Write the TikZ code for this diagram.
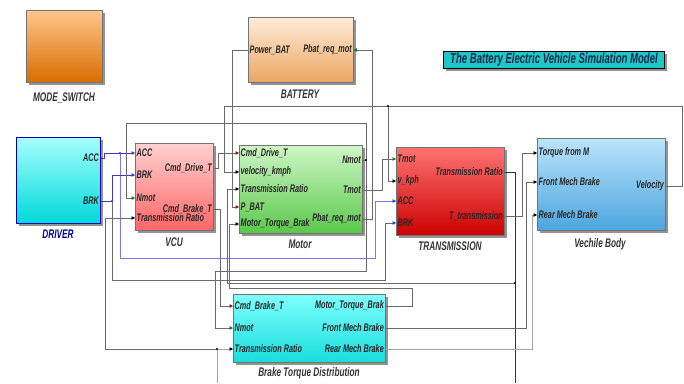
\documentclass[tikz,border=0pt]{standalone}
\usepackage{fontspec}
\newfontfamily\simfont[FakeStretch=0.66]{Liberation Sans}
\usetikzlibrary{shadows,arrows.meta,calc}

\definecolor{wiregray}{HTML}{6A6A6A}
\definecolor{wireblue}{HTML}{3A3AD0}
\definecolor{wirelblue}{HTML}{7A7AE6}
\definecolor{tipred}{HTML}{8A1E1E}
\definecolor{tipgreen}{HTML}{1E6E2E}
\definecolor{navy}{HTML}{18284A}
\definecolor{titlecyan}{HTML}{1EC8C8}
\definecolor{bodytop}{HTML}{BBE3FB}
\definecolor{bodybot}{HTML}{4CA6DF}
\definecolor{mottop}{HTML}{CFF6C6}
\definecolor{motbot}{HTML}{5AC84A}

\newcommand\portfont{\simfont\bfseries\itshape\fontsize{11}{12}\selectfont}
\newcommand\capfont{\simfont\bfseries\itshape\fontsize{12.5}{14}\selectfont}

\begin{document}
\begin{tikzpicture}[x=1pt,y=-1pt,
  block/.style={draw=black!55, line width=0.5pt, anchor=north west, inner sep=0pt,
    drop shadow={shadow xshift=2.5pt,shadow yshift=-2.5pt,fill=black!70,opacity=0.6}},
  port/.style={font=\portfont, inner sep=1.5pt, text=black!85},
  caption/.style={font=\capfont, anchor=north, text=black!80},
  wire/.style={draw=wiregray, line width=0.6pt},
  sig/.style={-{Triangle[length=3.5pt,width=3.5pt,color=#1]}},
  sig/.default=black]

  \fill[white] (0,0) rectangle (684,383);
  \useasboundingbox (0,0) rectangle (684,383);

  % Mode switch
  \node[block, minimum width=76pt, minimum height=72pt, top color=orange!45, bottom color=orange!85!black] (modesw) at (26,10) {};
  \node[caption] (modeswlbl) at (64,89) {MODE\_SWITCH};

  % Battery
  \node[block, minimum width=105pt, minimum height=65pt, top color=orange!15, bottom color=orange!55!brown!70] (bat) at (248,17) {};
  \node[caption] (batlbl) at (300,86) {BATTERY};
  \coordinate (batPB) at (bat.west |- 0,50);
  \coordinate (batPR) at (bat.east |- 0,50);
  \node[port, anchor=west] at (batPB) {Power\_BAT};
  \node[port, anchor=east] at (batPR) {Pbat\_req\_mot};

  % Title
  \node[draw=black, line width=0.6pt, fill=titlecyan, minimum width=221pt, minimum height=17pt, inner sep=0pt,
    drop shadow={shadow xshift=2.5pt,shadow yshift=-2.5pt,fill=black!70,opacity=0.6},
    font=\simfont\bfseries\itshape\fontsize{14.5}{15}\selectfont, text=navy] (title) at (554,60) {The Battery Electric Vehicle Simulation Model};

  % Driver
  \node[block, draw=blue!70!black, minimum width=84pt, minimum height=86pt, top color=cyan!35, bottom color=cyan!70!teal] (drv) at (16,137) {};
  \node[caption, text=blue!60!black] (drvlbl) at (58,226) {DRIVER};
  \coordinate (drvACC) at (drv.east |- 0,158);
  \coordinate (drvBRK) at (drv.east |- 0,201);
  \node[port, anchor=east] at (drvACC) {ACC};
  \node[port, anchor=east] at (drvBRK) {BRK};

  % VCU
  \node[block, minimum width=78pt, minimum height=87pt, top color=red!18, bottom color=red!60!white] (vcu) at (135,143) {};
  \node[caption] (vculbl) at (174,234) {VCU};
  \coordinate (vcuACC) at (vcu.west |- 0,153);
  \coordinate (vcuBRK) at (vcu.west |- 0,175);
  \coordinate (vcuNM) at (vcu.west |- 0,198);
  \coordinate (vcuTR) at (vcu.west |- 0,218);
  \coordinate (vcuCD) at (vcu.east |- 0,168);
  \coordinate (vcuCB) at (vcu.east |- 0,209);
  \node[port, anchor=west] at (vcuACC) {ACC};
  \node[port, anchor=west] at (vcuBRK) {BRK};
  \node[port, anchor=west] at (vcuNM) {Nmot};
  \node[port, anchor=west] at (vcuTR) {Transmission Ratio};
  \node[port, anchor=east] at (vcuCD) {Cmd\_Drive\_T};
  \node[port, anchor=east] at (vcuCB) {Cmd\_Brake\_T};

  % Motor
  \node[block, minimum width=123pt, minimum height=88pt, top color=mottop, bottom color=motbot] (mot) at (239,145) {};
  \node[caption] (motlbl) at (300,236) {Motor};
  \coordinate (motCD) at (mot.west |- 0,153);
  \coordinate (motVK) at (mot.west |- 0,172);
  \coordinate (motTR) at (mot.west |- 0,189);
  \coordinate (motPB) at (mot.west |- 0,207);
  \coordinate (motMT) at (mot.west |- 0,224);
  \coordinate (motNM) at (mot.east |- 0,160);
  \coordinate (motTM) at (mot.east |- 0,190);
  \coordinate (motPR) at (mot.east |- 0,219);
  \node[port, anchor=west] at (motCD) {Cmd\_Drive\_T};
  \node[port, anchor=west] at (motVK) {velocity\_kmph};
  \node[port, anchor=west] at (motTR) {Transmission Ratio};
  \node[port, anchor=west] at (motPB) {P\_BAT};
  \node[port, anchor=west] at (motMT) {Motor\_Torque\_Brak};
  \node[port, anchor=east] at (motNM) {Nmot};
  \node[port, anchor=east] at (motTM) {Tmot};
  \node[port, anchor=east] at (motPR) {Pbat\_req\_mot};

  % Transmission
  \node[block, minimum width=108pt, minimum height=88pt, top color=red!55, bottom color=red!80!black] (trn) at (396,147) {};
  \node[caption] (trnlbl) at (450,238) {TRANSMISSION};
  \coordinate (trnTM) at (trn.west |- 0,159);
  \coordinate (trnVK) at (trn.west |- 0,181);
  \coordinate (trnACC) at (trn.west |- 0,201);
  \coordinate (trnBRK) at (trn.west |- 0,223);
  \coordinate (trnTR) at (trn.east |- 0,172);
  \coordinate (trnTT) at (trn.east |- 0,216);
  \node[port, anchor=west] at (trnTM) {Tmot};
  \node[port, anchor=west] at (trnVK) {v\_kph};
  \node[port, anchor=west] at (trnACC) {ACC};
  \node[port, anchor=west] at (trnBRK) {BRK};
  \node[port, anchor=east] at (trnTR) {Transmission Ratio};
  \node[port, anchor=east] at (trnTT) {T\_transmission};

  % Vehicle body
  \node[block, minimum width=128pt, minimum height=92pt, top color=bodytop, bottom color=bodybot] (body) at (537,138) {};
  \node[caption] (bodylbl) at (600,235) {Vechile Body};
  \coordinate (bodyTQ) at (body.west |- 0,153);
  \coordinate (bodyFB) at (body.west |- 0,182);
  \coordinate (bodyRB) at (body.west |- 0,215);
  \coordinate (bodyVL) at (body.east |- 0,186);
  \node[port, anchor=west] at (bodyTQ) {Torque from M};
  \node[port, anchor=west] at (bodyFB) {Front Mech Brake};
  \node[port, anchor=west] at (bodyRB) {Rear Mech Brake};
  \node[port, anchor=east] at (bodyVL) {Velocity};

  % Brake torque distribution
  \node[block, minimum width=152pt, minimum height=68pt, top color=cyan!50, bottom color=cyan!70!teal!90] (btd) at (233,294) {};
  \node[caption] (btdlbl) at (309,364) {Brake Torque Distribution};
  \coordinate (btdCB) at (btd.west |- 0,306);
  \coordinate (btdNM) at (btd.west |- 0,328);
  \coordinate (btdTR) at (btd.west |- 0,349);
  \coordinate (btdMT) at (btd.east |- 0,306);
  \coordinate (btdFB) at (btd.east |- 0,328);
  \coordinate (btdRB) at (btd.east |- 0,349);
  \node[port, anchor=west] at (btdCB) {Cmd\_Brake\_T};
  \node[port, anchor=west] at (btdNM) {Nmot};
  \node[port, anchor=west] at (btdTR) {Transmission Ratio};
  \node[port, anchor=east] at (btdMT) {Motor\_Torque\_Brak};
  \node[port, anchor=east] at (btdFB) {Front Mech Brake};
  \node[port, anchor=east] at (btdRB) {Rear Mech Brake};

  % Driver signals
  \draw[wire, draw=wireblue, sig=wireblue] (drvACC) -- ++(4,0) |- (vcuACC);
  \draw[wire, draw=wirelblue, sig=wireblue] (120,153) -- (120,258) -- (375,258) |- (trnACC);
  \fill[wireblue] (120,153) circle[radius=1.1pt];
  \draw[wire, draw=wireblue, sig=wireblue] (drvBRK) -- (112,201) |- (vcuBRK);
  \draw[wire, sig=wireblue] (112,201) -- (112,280) -- (385,280) |- (trnBRK);
  \fill[wireblue] (112,201) circle[radius=1.1pt];

  % VCU outputs
  \draw[wire, sig=tipred] (vcuCD) -- (218,168) |- (motCD);
  \draw[wire, sig=tipred] (vcuCB) -- (220,209) |- (btdCB);

  % Motor speed feedback
  \draw[wire, sig=tipgreen] (motNM) -- (366,160) -- (366,123) -- (126,123) |- (vcuNM);
  \draw[wire, sig=tipgreen] (366,160) -- (366,271) -- (215,271) |- (btdNM);
  \fill (366,160) circle[radius=1.1pt];

  % Battery loop
  \draw[wire, sig=tipred] (batPB) -- (232,50) |- (motPB);
  \draw[wire, sig=tipgreen] (motPR) -- (372,219) -- (372,50) -- (batPR);

  % Torque to transmission
  \draw[wire, sig=tipgreen] (motTM) -- (382,190) |- (trnTM);

  % Velocity feedback
  \draw[wire, sig] (bodyVL) -- (682,186) -- (682,106) -- (224,106) |- (motVK);
  \draw[wire, sig] (388,106) |- (trnVK);
  \fill (388,106) circle[radius=1.1pt];

  % Transmission ratio
  \draw[wire, draw=black!80] (trnTR) -- (515,172) -- (515,383);
  \draw[wire, sig] (515,283) -- (227,283) |- (motTR);
  \fill (515,283) circle[radius=1.1pt];
  \draw[wire, draw=black!35, sig] (217,383) -- (217,349) -- (btdTR);
  \draw[wire, sig] (217,349) -- (105,349) |- (vcuTR);
  \fill (217,349) circle[radius=1.1pt];

  % Brake torque outputs
  \draw[wire, sig] (btdMT) -- (412,306) -- (412,288) -- (229,288) |- (motMT);
  \draw[wire, sig] (trnTT) -- (522,216) |- (bodyTQ);
  \draw[wire, sig] (btdFB) -- (526,328) |- (bodyFB);
  \draw[wire, draw=black!35, sig] (btdRB) -- (532,349) |- (bodyRB);
\end{tikzpicture}
\end{document}
